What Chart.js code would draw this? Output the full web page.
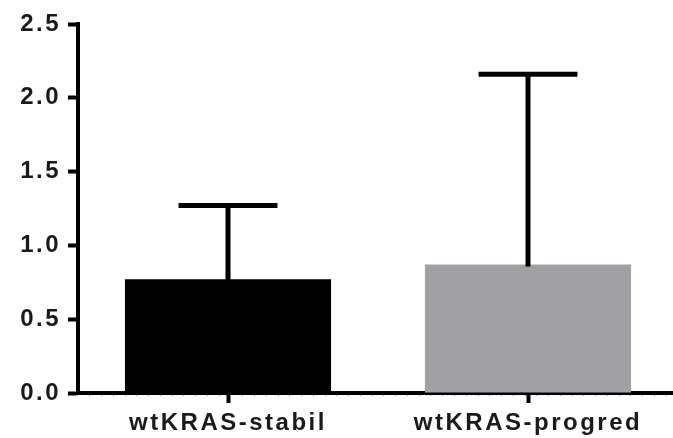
<!DOCTYPE html>
<html>
<head>
<meta charset="utf-8">
<script src="https://cdn.jsdelivr.net/npm/chart.js@4/dist/chart.umd.min.js"></script>
<style>
  html, body { margin: 0; padding: 0; background: #fff; overflow: hidden; }
  #wrap { width: 680px; height: 438px; }
</style>
</head>
<body>
<div id="wrap"><canvas id="c" width="680" height="438"></canvas></div>
<script>
// Groups and their means with the upper SD
const categories = ['wtKRAS-stabil', 'wtKRAS-progred'];
const means = [0.77, 0.87];
const sdUpper = [0.50, 1.29];
const barColors = ['#000000', '#a1a1a5'];
const yTicks = [0, 0.5, 1.0, 1.5, 2.0, 2.5];

const FONT = "'Liberation Sans', Arial, Helvetica, sans-serif";

// Wider tracking for all axis text
const spacing = {
  id: 'spacing',
  beforeLayout(chart) { chart.ctx.letterSpacing = '2.5px'; },
  beforeDraw(chart) { chart.ctx.letterSpacing = '2.5px'; }
};

// Upward-only error bars with a cap
const errorBars = {
  id: 'errorBars',
  afterDatasetsDraw(chart) {
    const ctx = chart.ctx;
    const meta = chart.getDatasetMeta(0);
    const y = chart.scales.y;
    ctx.save();
    ctx.strokeStyle = '#000';
    ctx.lineWidth = 5;
    ctx.lineCap = 'butt';
    meta.data.forEach((bar, i) => {
      const top = y.getPixelForValue(means[i] + sdUpper[i]);
      const half = bar.width * 0.24;
      ctx.beginPath();
      ctx.moveTo(bar.x, bar.y + 2);
      ctx.lineTo(bar.x, top);
      ctx.moveTo(bar.x - half, top);
      ctx.lineTo(bar.x + half, top);
      ctx.stroke();
    });
    ctx.restore();
  }
};

new Chart(document.getElementById('c'), {
  type: 'bar',
  data: {
    labels: categories,
    datasets: [{
      data: means,
      backgroundColor: barColors,
      borderWidth: 0,
      categoryPercentage: 1,
      barPercentage: 0.687
    }]
  },
  options: {
    responsive: false,
    animation: false,
    devicePixelRatio: 1,
    layout: { padding: { top: 24, right: 2, left: 0, bottom: 0 } },
    plugins: { legend: { display: false }, tooltip: { enabled: false } },
    scales: {
      x: {
        type: 'category',
        position: 'bottom',
        weight: 1,
        afterFit(s) { s.height = 45; },
        grid: { offset: false, drawOnChartArea: false, drawTicks: true, tickLength: 10, tickWidth: 4, tickColor: '#000' },
        border: { display: true, color: '#000', width: 4 },
        ticks: { color: '#1a1a1a', padding: 6, font: { family: FONT, size: 24, weight: 'bold' } }
      },
      xMinor: {
        type: 'linear',
        position: 'bottom',
        weight: 0,
        min: 0,
        max: 50,
        afterFit(s) { s.height = 0; },
        grid: { drawOnChartArea: false, drawTicks: true, tickLength: 3, tickWidth: 1, tickColor: '#a0a0a0' },
        border: { display: false },
        ticks: { display: false, stepSize: 1, maxTicksLimit: 100 }
      },
      y: {
        min: 0,
        max: 2.5,
        afterFit(s) { s.width = 78; },
        afterBuildTicks(s) { s.ticks = yTicks.map(v => ({ value: v })); },
        grid: { drawOnChartArea: false, drawTicks: true, tickLength: 10, tickWidth: 4, tickColor: '#000' },
        border: { display: true, color: '#000', width: 4 },
        ticks: {
          color: '#1a1a1a',
          padding: 7,
          font: { family: FONT, size: 24, weight: 'bold' },
          callback: v => Number(v).toFixed(1)
        }
      }
    }
  },
  plugins: [spacing, errorBars]
});
</script>
</body>
</html>
